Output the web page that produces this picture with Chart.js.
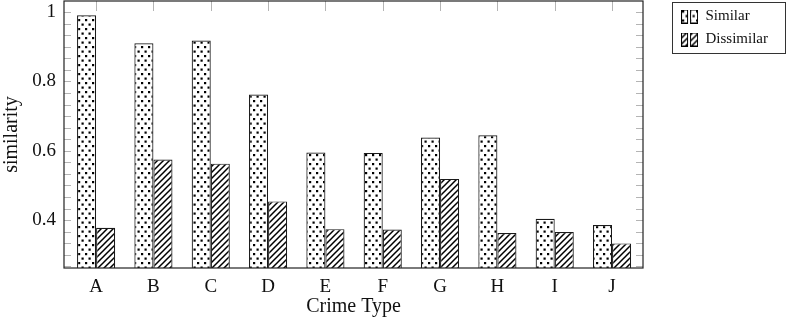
<!DOCTYPE html>
<html>
<head>
<meta charset="utf-8">
<script src="https://cdn.jsdelivr.net/npm/chart.js@4"></script>
<style>
  html, body { margin: 0; padding: 0; background: #fff; }
  #wrap { width: 787px; height: 321px; position: relative; }
</style>
</head>
<body>
<div id="wrap"><canvas id="myChart"></canvas></div>
<script>
// data
var categories = ['A', 'B', 'C', 'D', 'E', 'F', 'G', 'H', 'I', 'J'];
var similar = [0.991, 0.910, 0.918, 0.762, 0.595, 0.594, 0.638, 0.645, 0.404, 0.386];
var dissimilar = [0.378, 0.575, 0.563, 0.454, 0.374, 0.373, 0.519, 0.363, 0.366, 0.333];
var yTicks = [0.4, 0.6, 0.8, 1];
var seriesNames = ['Similar', 'Dissimilar'];

var serif = "'Liberation Serif', 'DejaVu Serif', serif";

// fill patterns (dots and north east lines)
function dotTile() {
  var c = document.createElement('canvas');
  c.width = 7; c.height = 9;
  var g = c.getContext('2d');
  g.fillStyle = '#fff'; g.fillRect(0, 0, 7, 9);
  g.fillStyle = '#000';
  g.fillRect(1, 1, 2.2, 2.2);
  g.fillRect(4.5, 5.5, 2.2, 2.2);
  return c;
}
function hatchTile() {
  var c = document.createElement('canvas');
  c.width = 6; c.height = 6;
  var g = c.getContext('2d');
  g.fillStyle = '#fff'; g.fillRect(0, 0, 6, 6);
  g.strokeStyle = '#000'; g.lineWidth = 1.5;
  g.beginPath();
  g.moveTo(-1, 7); g.lineTo(7, -1);
  g.moveTo(-1, 1); g.lineTo(1, -1);
  g.moveTo(5, 7); g.lineTo(7, 5);
  g.stroke();
  return c;
}
var ctx = document.getElementById('myChart').getContext('2d');
var dots = ctx.createPattern(dotTile(), 'repeat');
var hatch = ctx.createPattern(hatchTile(), 'repeat');

// legend icon: two small patterned boxes side by side
function legendIcon(pat) {
  var c = document.createElement('canvas');
  c.width = 17; c.height = 14;
  var g = c.getContext('2d');
  [[0.5, 6], [9.5, 7]].forEach(function (b) {
    g.fillStyle = pat;
    g.fillRect(b[0], 0.5, b[1], 13);
    g.strokeStyle = '#000'; g.lineWidth = 1;
    g.strokeRect(b[0], 0.5, b[1], 13);
  });
  return c;
}
var icons = [legendIcon(dots), legendIcon(hatch)];

// frame, inward ticks and legend border
var axisDecor = {
  id: 'axisDecor',
  beforeDatasetsDraw: function (chart) {
    var a = chart.chartArea, y = chart.scales.y, x = chart.scales.x, c = chart.ctx;
    c.save();
    c.strokeStyle = '#b4b4b4';
    c.lineWidth = 1;
    c.beginPath();
    for (var k = -4; k <= 19; k++) {
      var v = 0.4 + k * 0.2 / 6;
      if (v < y.min || v > y.max) continue;
      var py = Math.round(y.getPixelForValue(v)) + 0.5;
      c.moveTo(a.left, py); c.lineTo(a.left + 7, py);
      c.moveTo(a.right, py); c.lineTo(a.right - 7, py);
    }
    categories.forEach(function (cat, i) {
      var px = Math.round(x.getPixelForValue(i)) + 0.5;
      c.moveTo(px, a.top); c.lineTo(px, a.top + 10);
    });
    c.stroke();
    c.restore();
  },
  afterDraw: function (chart) {
    var a = chart.chartArea, c = chart.ctx;
    c.save();
    c.strokeStyle = '#222';
    c.lineWidth = 1.2;
    c.strokeRect(a.left, a.top, a.right - a.left, a.bottom - a.top);
    var boxes = chart.legend.legendHitBoxes;
    if (boxes && boxes.length) {
      var l = boxes[0].left - 9, t = boxes[0].top - 7;
      var r = 0, b = 0;
      boxes.forEach(function (h) { r = Math.max(r, h.left + h.width); b = Math.max(b, h.top + h.height); });
      c.lineWidth = 1;
      c.strokeStyle = '#333';
      c.strokeRect(l + 0.5, t + 0.5, r + 17 - l, b + 6 - t);
    }
    c.restore();
  }
};

var myChart = new Chart(ctx, {
  type: 'bar',
  data: {
    labels: categories,
    datasets: [{
      label: seriesNames[0],
      data: similar,
      backgroundColor: dots,
      borderColor: '#1a1a1a',
      borderWidth: 1.2,
      borderSkipped: false
    }, {
      label: seriesNames[1],
      data: dissimilar,
      backgroundColor: hatch,
      borderColor: '#1a1a1a',
      borderWidth: 1.2,
      borderSkipped: false
    }]
  },
  options: {
    responsive: true,
    maintainAspectRatio: false,
    animation: false,
    datasets: { bar: { barPercentage: 1, categoryPercentage: 0.665 } },
    layout: { padding: { top: 1, right: 9, left: 0, bottom: 0 } },
    scales: {
      x: {
        grid: { display: false, drawTicks: false },
        border: { display: false },
        ticks: { color: '#111', padding: 8, font: { family: serif, size: 19 } },
        title: { display: true, text: 'Crime Type', color: '#111', padding: { top: 0, bottom: 2 }, font: { family: serif, size: 20 } },
        afterBuildTicks: function (s) {
          // a bit more room before A and after J, like the original
          s._startValue = -0.56;
          s._valueRange = categories.length + 0.1;
        },
        afterFit: function (s) { s.height = 53; s.paddingLeft = 0; s.paddingRight = 0; }
      },
      y: {
        min: 0.262,
        max: 1.032,
        grid: { display: false, drawTicks: false },
        border: { display: false },
        afterBuildTicks: function (s) { s.ticks = yTicks.map(function (v) { return { value: v }; }); },
        ticks: {
          color: '#111', padding: 8, font: { family: serif, size: 19 },
          callback: function (v) { return v === 1 ? '1' : v.toFixed(1); }
        },
        title: { display: true, text: 'similarity', color: '#111', padding: { top: 0, bottom: 0 }, font: { family: serif, size: 20 } },
        afterFit: function (s) { s.width = 64; s.paddingTop = 0; s.paddingBottom = 0; }
      },
      y2: {
        position: 'right',
        display: true,
        grid: { display: false, drawTicks: false },
        border: { display: false },
        ticks: { display: false },
        afterFit: function (s) { s.width = 30; s.paddingTop = 0; s.paddingBottom = 0; }
      }
    },
    plugins: {
      legend: {
        position: 'right',
        align: 'start',
        labels: {
          color: '#111',
          font: { family: serif, size: 15 },
          usePointStyle: true,
          pointStyleWidth: 17,
          padding: 8,
          generateLabels: function (chart) {
            return Chart.defaults.plugins.legend.labels.generateLabels(chart).map(function (it, i) {
              it.pointStyle = icons[i];
              return it;
            });
          }
        },
        onClick: null
      },
      tooltip: { enabled: false }
    }
  },
  plugins: [axisDecor]
});
</script>
</body>
</html>
